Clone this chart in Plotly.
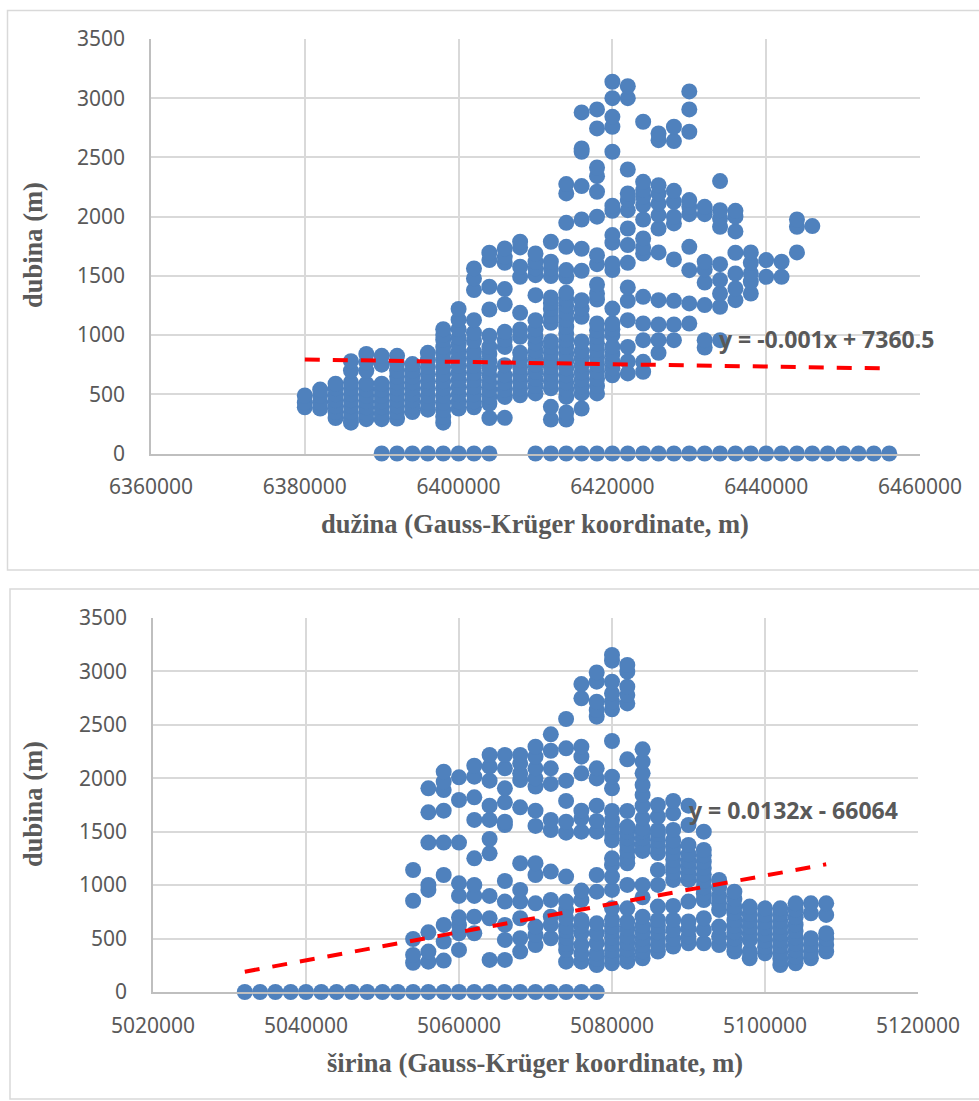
import plotly.graph_objects as go

W, H = 979, 1101

# ---- upper chart: longitude columns and depths ----
lon_cols = [6380000,6382000,6384000,6386000,6388000,6390000,6392000,6394000,6396000,6398000,
            6400000,6402000,6404000,6406000,6408000,6410000,6412000,6414000,6416000,6418000,
            6420000,6422000,6424000,6426000,6428000,6430000,6432000,6434000,6436000,6438000,
            6440000,6442000,6444000,6446000]
lon_depths = [
 [390,430,490],
 [380,430,490,540],
 [300,350,400,450,500,550,590],
 [260,300,350,400,450,500,550,600,700,780],
 [290,340,390,440,490,540,590,700,770,840],
 [290,340,390,440,490,540,590,750,825],
 [295,350,400,450,500,550,600,650,700,760,825],
 [350,400,450,500,550,600,650,700,755],
 [370,430,490,550,610,670,730,790,850],
 [260,310,370,430,490,550,610,670,730,790,850,900,960,1000,1050],
 [380,440,500,560,620,680,740,800,860,920,980,1050,1130,1220],
 [390,440,500,560,620,680,740,800,860,950,1020,1126,1380,1478,1563],
 [300,420,480,540,600,660,720,780,840,900,994,1216,1408,1633,1695],
 [301,478,540,600,660,746,900,960,1027,1260,1388,1610,1661,1731],
 [492,550,610,670,730,788,850,985,1047,1188,1492,1577,1740,1788],
 [507,570,630,690,750,810,870,930,990,1050,1126,1337,1506,1563,1619,1689],
 [287,394,550,610,670,730,790,850,900,948,1103,1160,1220,1270,1317,1498,1563,1619,1788],
 [287,346,478,540,600,660,720,780,840,900,960,1013,1070,1130,1190,1250,1300,1357,1492,1549,1745,1948,2196,2275],
 [380,507,565,625,685,745,805,865,946,1154,1225,1295,1543,1729,1976,2258,2548,2576,2880],
 [507,570,630,690,750,810,873,930,985,1040,1098,1300,1351,1428,1599,1675,2000,2210,2342,2415,2745,2905],
 [660,720,780,840,900,1000,1050,1098,1224,1549,1605,1780,1844,2050,2092,2548,2759,2843,3000,3139],
 [676,777,900,1126,1289,1402,1610,1760,1900,2055,2140,2196,2398,3000,3102],
 [690,774,957,1098,1323,1689,1740,1816,1976,2098,2168,2224,2294,2801],
 [850,957,1089,1295,1698,1900,2013,2112,2196,2266,2646,2703],
 [957,1089,1289,1639,1943,2000,2126,2218,2638,2759],
 [1098,1267,1548,1745,2021,2083,2140,2717,2905,3057],
 [895,957,1253,1444,1554,1619,2021,2083],
 [957,1239,1351,1464,1599,1914,1985,2055,2300],
 [1295,1393,1520,1695,1875,2000,2049],
 [1351,1450,1520,1610,1698],
 [1492,1633],
 [1492,1619],
 [1698,1914,1976],
 [1920],
]
lon_surface = [6390000,6392000,6394000,6396000,6398000,6400000,6402000,6404000,
               6410000,6412000,6414000,6416000,6418000,6420000,6422000,6424000,6426000,6428000,
               6430000,6432000,6434000,6436000,6438000,6440000,6442000,6444000,6446000,6448000,
               6450000,6452000,6454000,6456000]
lon_trend_x = [6380000, 6456000]
lon_trend_y = [794, 718]

# ---- lower chart: latitude columns and depths ----
lat_cols = [5054000,5056000,5058000,5060000,5062000,5064000,5066000,5068000,5070000,5072000,
            5074000,5076000,5078000,5080000,5082000,5084000,5086000,5088000,5090000,5092000,
            5094000,5096000,5098000,5100000,5102000,5104000,5106000,5108000]
lat_depths = [
 [274,347,496,854,1142],
 [284,378,558,955,1002,1398,1681,1906],
 [294,472,628,1095,1398,1697,1890,1968,2062],
 [394,550,628,699,899,1017,1398,1797,2009],
 [550,705,899,1002,1251,1610,1822,2015,2118],
 [300,690,899,1298,1432,1610,1744,1978,2109,2218],
 [300,487,628,846,1039,1563,1594,1775,1906,2093,2218],
 [378,503,690,846,955,1205,1728,1984,2046,2140,2218],
 [440,534,612,830,1095,1205,1554,1697,1922,1999,2093,2202,2296],
 [503,628,705,861,1127,1516,1610,1947,2093,2258,2411],
 [284,394,450,510,570,612,690,768,846,1080,1491,1594,1788,1978,2280,2555],
 [284,360,440,550,620,674,861,949,1500,1625,1697,2046,2202,2296,2748,2882],
 [253,310,362,456,550,643,939,1095,1500,1600,1744,1999,2093,2577,2639,2717,2904,2991],
 [269,330,390,450,510,570,612,680,783,955,1080,1189,1251,1420,1480,1547,1610,1694,1906,2015,2349,2645,2717,2795,2904,3101,3154],
 [284,340,400,460,520,590,659,783,1002,1205,1260,1320,1380,1440,1500,1547,1694,2177,2701,2779,2857,2998,3060],
 [316,380,440,500,560,620,705,886,1002,1320,1380,1440,1500,1532,1625,1744,1844,1937,2046,2156,2271],
 [378,440,500,560,620,674,799,1002,1142,1300,1360,1420,1480,1516,1641,1750],
 [425,500,581,674,805,1049,1120,1180,1240,1300,1360,1420,1516,1672,1788],
 [456,520,590,660,846,1049,1110,1170,1230,1290,1376,1563,1744],
 [456,581,690,861,920,980,1040,1100,1160,1220,1280,1329,1500],
 [440,520,612,768,830,900,980,1049],
 [378,440,500,560,620,674,740,800,870,939],
 [316,380,487,550,610,670,730,799],
 [362,420,480,540,600,660,720,783],
 [253,310,370,430,490,550,610,670,730,783],
 [269,330,390,450,510,570,630,700,770,830],
 [316,380,440,503,737,830],
 [378,440,500,550,721,830],
]
lat_surface = [5032000,5034000,5036000,5038000,5040000,5042000,5044000,5046000,5048000,5050000,
               5052000,5054000,5056000,5058000,5060000,5062000,5064000,5066000,5068000,5070000,
               5072000,5074000,5076000,5078000]
lat_trend_x = [5032000, 5108000]
lat_trend_y = [190, 1195]

y_ticks = [0,500,1000,1500,2000,2500,3000,3500]
lon_ticks = [6360000,6380000,6400000,6420000,6440000,6460000]
lat_ticks = [5020000,5040000,5060000,5080000,5100000,5120000]

BLUE = "#4f81bd"
TXT = "#595959"
GRID = "#d9d9d9"
AXIS = "#bfbfbf"

fig = go.Figure()

def add_chart(cols, depths, surface, tx, ty, xa, ya):
    xs, ys = [], []
    for c, d in zip(cols, depths):
        xs += [c] * len(d)
        ys += d
    xs += surface
    ys += [0] * len(surface)
    fig.add_trace(go.Scatter(x=xs, y=ys, mode="markers", xaxis=xa, yaxis=ya, cliponaxis=False,
                             marker=dict(size=16, color=BLUE, line=dict(width=0)),
                             showlegend=False))
    fig.add_trace(go.Scatter(x=tx, y=ty, mode="lines", xaxis=xa, yaxis=ya, cliponaxis=False,
                             line=dict(color="#ff0000", width=4, dash="15px,13px"),
                             showlegend=False))

add_chart(lon_cols, lon_depths, lon_surface, lon_trend_x, lon_trend_y, "x", "y")
add_chart(lat_cols, lat_depths, lat_surface, lat_trend_x, lat_trend_y, "x2", "y2")

def xdom(a, b): return [a / W, b / W]
def ydom(top, bottom): return [1 - bottom / H, 1 - top / H]

tickfont = dict(family="Noto Sans", size=21, color=TXT)
titlefont = dict(family="Liberation Serif", size=26.5, color=TXT, weight="bold")

def xaxis(dom, rng, ticks, anchor):
    return dict(domain=dom, range=rng, tickvals=ticks, ticktext=[str(t) for t in ticks],
                anchor=anchor, showgrid=True, gridcolor=GRID, gridwidth=1.5, zeroline=False,
                showline=True, linecolor=AXIS, linewidth=1.5, mirror=False, automargin=False,
                ticks="outside", ticklen=14, tickcolor="rgba(0,0,0,0)", tickfont=tickfont)

def yaxis(dom, anchor):
    return dict(domain=dom, range=[0, 3500], tickvals=y_ticks, ticktext=[str(t) for t in y_ticks],
                anchor=anchor, showgrid=True, gridcolor=GRID, gridwidth=1.5, zeroline=False,
                showline=True, linecolor=AXIS, linewidth=1.5, automargin=False,
                ticks="outside", ticklen=20, tickcolor="rgba(0,0,0,0)", tickfont=tickfont)

def frame(x0, y0, x1, y1):
    return dict(type="rect", xref="paper", yref="paper", layer="below",
                x0=x0 / W, x1=x1 / W, y0=1 - y0 / H, y1=1 - y1 / H,
                line=dict(color=GRID, width=1.5), fillcolor="white")

def title_at(text, px, py, angle=0):
    return dict(text=text, x=px / W, y=1 - py / H, xref="paper", yref="paper", showarrow=False,
                textangle=angle, font=titlefont, xanchor="center", yanchor="middle")

labelfont = dict(family="Noto Sans", size=23, color=TXT, weight="bold")

fig.update_layout(
    width=W, height=H, margin=dict(l=0, r=0, t=0, b=0, autoexpand=False),
    paper_bgcolor="white", plot_bgcolor="rgba(0,0,0,0)",
    xaxis=xaxis(xdom(151, 920), [6360000, 6460000], lon_ticks, "y"),
    yaxis=yaxis(ydom(39, 453.5), "x"),
    xaxis2=xaxis(xdom(153, 918), [5020000, 5120000], lat_ticks, "y2"),
    yaxis2=yaxis(ydom(618, 992), "x2"),
    shapes=[frame(7.5, 10.5, 990, 570), frame(10, 589, 990, 1099)],
    annotations=[
        dict(text="y = -0.001x + 7360.5", x=6447880, y=965, xref="x", yref="y",
             showarrow=False, font=labelfont),
        dict(text="y = 0.0132x - 66064", x=5103790, y=1703, xref="x2", yref="y2",
             showarrow=False, font=labelfont),
        title_at("dužina (Gauss-Krüger koordinate, m)", 535, 524),
        title_at("širina (Gauss-Krüger koordinate, m)", 535, 1063),
        title_at("dubina (m)", 33, 245, -90),
        title_at("dubina (m)", 33, 804, -90),
    ],
)

fig.write_html("out.html", config=dict(displayModeBar=False),
               post_script="document.body.style.margin='0';document.body.style.overflow='hidden';")
